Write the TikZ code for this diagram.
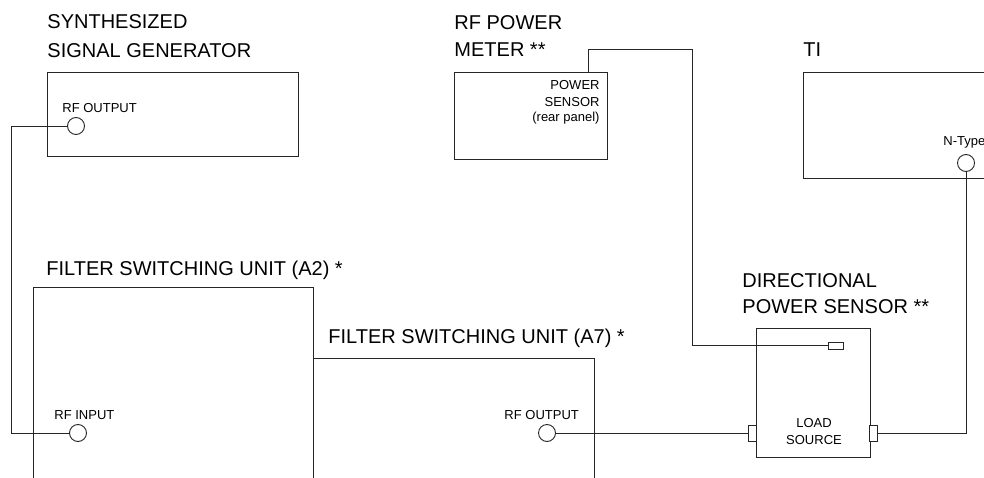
\documentclass[tikz,border=0pt]{standalone}
\usepackage{fontspec}
\setmainfont{Liberation Sans}
\begin{document}
\begin{tikzpicture}[x=1pt,y=-1pt,line width=0.9pt,draw=black!85,
  box/.style={draw,rectangle,anchor=north west,inner sep=0},
  ttl/.style={anchor=base west,inner sep=0,font=\fontsize{20}{24}\selectfont},
  lbl/.style={anchor=base west,inner sep=0,font=\fontsize{13}{15}\selectfont},
  lblr/.style={anchor=base east,inner sep=0,font=\fontsize{13}{15}\selectfont},
  lblc/.style={anchor=base,inner sep=0,font=\fontsize{13}{15}\selectfont},
  port/.style={draw,circle,minimum size=17pt,inner sep=0,fill=white},
  jack/.style={draw,rectangle,inner sep=0,fill=white}]
\useasboundingbox[clip] (0,0) rectangle (984,478);
\fill[white] (0,0) rectangle (984,478);

% boxes
\node[box,minimum width=251pt,minimum height=84pt] (sg) at (47,72) {};
\node[box,minimum width=153pt,minimum height=87pt] (pm) at (454,72) {};
\node[box,minimum width=200pt,minimum height=106pt] (ti) at (803,72) {};
\node[box,minimum width=114pt,minimum height=129pt] (dps) at (756,328) {};
\draw (33,490) -- (33,287) -- (313,287) -- (313,490);
\draw (313,358) -- (594,358) -- (594,490);

% titles
\node[ttl] (t1) at (47,29) {SYNTHESIZED};
\node[ttl] (t2) at (47,58) {SIGNAL GENERATOR};
\node[ttl] (t3) at (454,30) {RF POWER};
\node[ttl] (t4) at (454,57) {METER **};
\node[ttl] (t5) at (803,57) {TI};
\node[ttl] (t6) at (46,275) {FILTER SWITCHING UNIT (A2) *};
\node[ttl] (t7) at (328,343) {FILTER SWITCHING UNIT (A7) *};
\node[ttl] (t8) at (742,287) {DIRECTIONAL};
\node[ttl] (t9) at (742,313) {POWER SENSOR **};

% small labels
\node[lbl] (l1) at (62,113) {RF OUTPUT};
\node[lblr] (l2) at (600,90) {POWER};
\node[lblr] (l3) at (600,107) {SENSOR};
\node[lblr] (l4) at (600,122) {(rear panel)};
\node[lbl] (l5) at (943,146) {N-Type};
\node[lbl] (l6) at (54,419) {RF INPUT};
\node[lbl] (l7) at (504,419) {RF OUTPUT};
\node[lblc] (l8) at (814,427) {LOAD};
\node[lblc] (l9) at (814,444) {SOURCE};

% ports
\coordinate (c1) at (11,126);
\coordinate (pmtap) at (588,72);
\coordinate (c2) at (692,49);
\node[port] (sgout) at (76,126) {};
\node[port] (a2in) at (78,433) {};
\node[port] (a7out) at (547,433) {};
\node[port] (tiport) at (966,163) {};
\node[jack,minimum width=15pt,minimum height=7pt] (dsense) at (835.5,345.5) {};
\node[jack,minimum width=8pt,minimum height=16pt] (jl) at (752,433) {};
\node[jack,minimum width=8pt,minimum height=16pt] (jr) at (873,433) {};

% connectors
\draw (sgout.west) -- (c1) |- (a2in.west);
\draw (pmtap) |- (c2) |- (dsense.west);
\draw (a7out.east) -- (jl.west);
\draw (jr.east) -| (tiport.south);
\end{tikzpicture}
\end{document}
